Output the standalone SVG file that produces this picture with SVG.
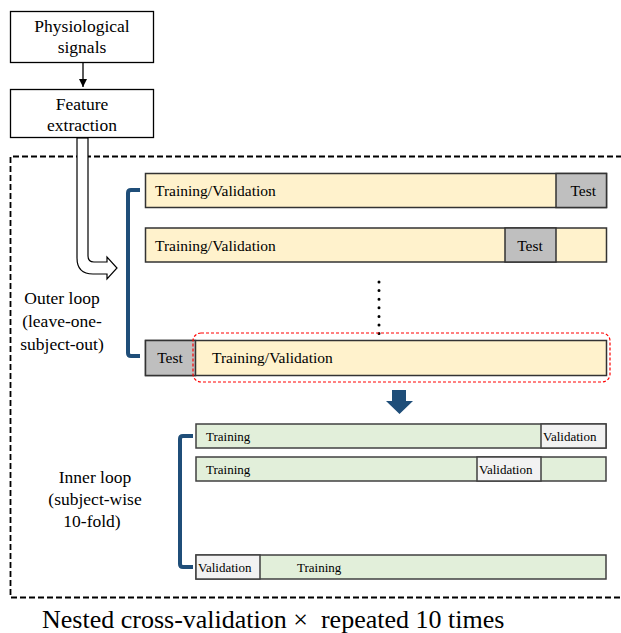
<svg xmlns="http://www.w3.org/2000/svg" width="621" height="633" viewBox="0 0 621 633">
<defs>
<marker id="ah" viewBox="0 0 10 10" refX="10" refY="5" markerWidth="8" markerHeight="8" markerUnits="userSpaceOnUse" orient="auto"><path d="M0,0 L10,5 L0,10 Z" fill="#000"/></marker>
</defs>
<style>
text{font-family:"Liberation Serif","Times New Roman",serif;fill:#000}
.box{fill:#fff;stroke:#000;stroke-width:1.3}
.t16{font-size:17.5px}
.t14{font-size:15.5px}
.t12{font-size:13px}
.yel{fill:#fff2cc;stroke:#333;stroke-width:1.5}
.gry{fill:#bfbfbf;stroke:#333;stroke-width:1.5}
.grn{fill:#e2efda;stroke:#404040;stroke-width:1.5}
.lgr{fill:#f2f2f2;stroke:#404040;stroke-width:1.5}
.brk{fill:none;stroke:#1f4e79;stroke-width:4;stroke-linejoin:round}
</style>
<rect width="621" height="633" fill="#fff"/>
<g id="frame">
<path d="M622,156.5 L10.5,156.5 L10.5,597.5 L622,597.5" fill="none" stroke="#000" stroke-width="1.8" stroke-dasharray="6,3"/>
</g>
<g id="connectors">
<line x1="83" y1="63" x2="83" y2="87" stroke="#000" stroke-width="1.3" marker-end="url(#ah)"/>
<path d="M77,138 L88,138 L88,256 Q88,262 94,262 L107,262 L107,257 L117,268 L107,279 L107,274 L93,274 Q77,274 77,258 Z" fill="#fff" stroke="#000" stroke-width="1.2"/>
<path class="brk" d="M140,190 L131,190 Q128,190 128,193 L128,353 Q128,356 131,356 L140,356"/>
<path class="brk" d="M193,436 L183,436 Q180,436 180,439 L180,564 Q180,567 183,567 L193,567"/>
<path d="M392,390 L406,390 L406,401 L413,401 L399.5,414 L386,401 L392,401 Z" fill="#1f4e79"/>
<line x1="379" y1="282" x2="379" y2="334" stroke="#000" stroke-width="3" stroke-linecap="round" stroke-dasharray="0,8.6"/>
</g>
<g id="physio">
<rect class="box" x="10.5" y="11.5" width="143" height="51"/>
<text class="t16" x="82" y="32" text-anchor="middle">Physiological</text>
<text class="t16" x="82" y="53" text-anchor="middle">signals</text>
</g>
<g id="feature">
<rect class="box" x="10.5" y="89.5" width="143" height="48"/>
<text class="t16" x="82" y="110" text-anchor="middle">Feature</text>
<text class="t16" x="82" y="131" text-anchor="middle">extraction</text>
</g>
<g id="outer1">
<rect class="yel" x="145.5" y="173.5" width="461" height="34"/>
<rect class="gry" x="556" y="173.5" width="50.5" height="34"/>
<text class="t14" x="155" y="196">Training/Validation</text>
<text class="t14" x="596" y="196" text-anchor="end">Test</text>
</g>
<g id="outer2">
<rect class="yel" x="145.5" y="228" width="461" height="34"/>
<rect class="gry" x="505" y="228" width="51" height="34"/>
<text class="t14" x="155" y="250.5">Training/Validation</text>
<text class="t14" x="530" y="250.5" text-anchor="middle">Test</text>
</g>
<g id="outer3">
<rect class="yel" x="145.5" y="340.5" width="461" height="35"/>
<rect class="gry" x="145.5" y="340.5" width="50" height="35"/>
<text class="t14" x="170" y="363" text-anchor="middle">Test</text>
<text class="t14" x="212" y="363">Training/Validation</text>
<rect x="193" y="333" width="417" height="49" rx="8" fill="none" stroke="#ff0000" stroke-width="1.2" stroke-dasharray="3,2"/>
</g>
<g id="outerLabel">
<text class="t16" x="62" y="304" text-anchor="middle">Outer loop</text>
<text class="t16" x="62" y="327" text-anchor="middle">(leave-one-</text>
<text class="t16" x="62" y="350" text-anchor="middle">subject-out)</text>
</g>
<g id="inner1">
<rect class="grn" x="196" y="424" width="410" height="24"/>
<rect class="lgr" x="541" y="424" width="65" height="24"/>
<text class="t12" x="206" y="441">Training</text>
<text class="t12" x="543" y="441">Validation</text>
</g>
<g id="inner2">
<rect class="grn" x="196" y="457" width="410" height="24"/>
<rect class="lgr" x="477" y="457" width="64" height="24"/>
<text class="t12" x="206" y="474">Training</text>
<text class="t12" x="479" y="474">Validation</text>
</g>
<g id="inner3">
<rect class="grn" x="196" y="555" width="410" height="24"/>
<rect class="lgr" x="196" y="555" width="64" height="24"/>
<text class="t12" x="198" y="572">Validation</text>
<text class="t12" x="297" y="572">Training</text>
</g>
<g id="innerLabel">
<text class="t16" x="95" y="483" text-anchor="middle">Inner loop</text>
<text class="t16" x="95" y="505" text-anchor="middle">(subject-wise</text>
<text class="t16" x="92" y="527" text-anchor="middle">10-fold)</text>
</g>
<g id="title">
<text x="42" y="628" style="font-size:26px" xml:space="preserve">Nested cross-validation ×  repeated 10 times</text>
</g>
</svg>
